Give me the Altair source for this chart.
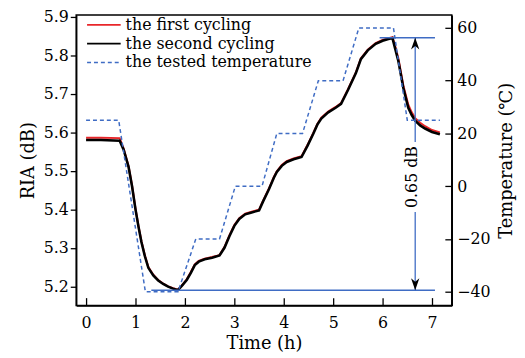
import altair as alt
import pandas as pd

FONT = "DejaVu Serif"
BLUE = "#3f6cc4"

# ---- data ----
time_h = [0.0, 0.3, 0.68, 0.76, 0.86, 0.93, 1.0, 1.06, 1.12, 1.19,
          1.26, 1.36, 1.46, 1.56, 1.66, 1.76, 1.86, 1.95, 2.04, 2.12,
          2.2, 2.28, 2.4, 2.55, 2.7, 2.8, 2.9, 3.0, 3.1, 3.22,
          3.35, 3.5, 3.58, 3.7, 3.8, 3.86, 3.96, 4.06, 4.2, 4.36,
          4.48, 4.6, 4.68, 4.76, 4.9, 5.05, 5.16, 5.3, 5.46, 5.56,
          5.7, 5.86, 6.0, 6.1, 6.2, 6.26, 6.32, 6.42, 6.52, 6.59,
          6.66, 6.76, 6.86, 7.0, 7.16]
ria_first = [5.586, 5.586, 5.585, 5.558, 5.512, 5.462, 5.402, 5.357, 5.317, 5.280,
             5.250, 5.230, 5.216, 5.207, 5.200, 5.195, 5.191, 5.204, 5.219, 5.237,
             5.257, 5.266, 5.272, 5.276, 5.281, 5.302, 5.332, 5.359, 5.377, 5.389,
             5.394, 5.399, 5.422, 5.454, 5.484, 5.499, 5.515, 5.525, 5.532, 5.538,
             5.567, 5.599, 5.622, 5.638, 5.654, 5.666, 5.676, 5.712, 5.756, 5.792,
             5.815, 5.832, 5.840, 5.844, 5.847, 5.822, 5.792, 5.722, 5.672, 5.652,
             5.637, 5.625, 5.616, 5.606, 5.600]
ria_second = [5.580, 5.580, 5.578, 5.555, 5.510, 5.460, 5.400, 5.355, 5.315, 5.278,
              5.248, 5.228, 5.215, 5.206, 5.199, 5.194, 5.190, 5.203, 5.217, 5.235,
              5.255, 5.264, 5.270, 5.274, 5.280, 5.300, 5.330, 5.357, 5.375, 5.387,
              5.392, 5.397, 5.420, 5.452, 5.482, 5.497, 5.513, 5.523, 5.530, 5.536,
              5.565, 5.597, 5.620, 5.636, 5.652, 5.664, 5.674, 5.710, 5.754, 5.790,
              5.813, 5.830, 5.838, 5.842, 5.845, 5.815, 5.785, 5.715, 5.664, 5.645,
              5.630, 5.618, 5.610, 5.601, 5.595]

temp_time_h = [0.0, 0.66, 1.2, 1.86, 2.22, 2.7, 3.02, 3.56, 3.86, 4.38,
               4.7, 5.2, 5.52, 6.22, 6.5, 7.16]
temp_c = [25, 25, -40, -40, -20, -20, 0, 0, 20, 20, 40, 40, 60, 60, 25, 25]

x_ticks = [0, 1, 2, 3, 4, 5, 6, 7]
ria_ticks = [5.2, 5.3, 5.4, 5.5, 5.6, 5.7, 5.8, 5.9]
temp_ticks = [-40, -20, 0, 20, 40, 60]

legend_labels = ["the first cycling", "the second cycling", "the tested temperature"]

# annotation (0.65 dB span)
ria_peak = 5.846
ria_min = 5.19
peak_line_t = [5.94, 7.06]
min_line_t = [1.32, 7.06]
arrow_t = 6.66
gap_ria = [5.575, 5.393]
delta_label = "0.65 dB"
delta_label_t = 6.59
delta_label_ria = 5.484

# ---- scales ----
xscale = alt.Scale(domain=[-0.2, 7.4], nice=False, zero=False)
ria_scale = alt.Scale(domain=[5.15, 5.905], nice=False, zero=False)
temp_scale = alt.Scale(domain=[-45.2, 64.9], nice=False, zero=False)

curves = pd.DataFrame({"t": time_h, "first": ria_first, "second": ria_second})
temps = pd.DataFrame({"t": temp_time_h, "temp": temp_c})

x_none = alt.X("t:Q", scale=xscale, axis=None)

red = alt.Chart(curves).mark_line(color="#e8262a", strokeWidth=2).encode(
    x=alt.X("t:Q", scale=xscale,
            axis=alt.Axis(values=x_ticks, format="d", title="Time (h)", tickSize=0,
                          labelPadding=9, titlePadding=4, orient="bottom")),
    y=alt.Y("first:Q", scale=ria_scale,
            axis=alt.Axis(values=ria_ticks, format=".1f", title="RIA (dB)", orient="left",
                          tickSize=6, labelPadding=2, titlePadding=6,
                          titleAngle=270, titleBaseline="bottom")),
)
black = alt.Chart(curves).mark_line(color="black", strokeWidth=2.6).encode(
    x=x_none, y=alt.Y("second:Q", scale=ria_scale, axis=None))

temp_line = alt.Chart(temps).mark_line(color=BLUE, strokeWidth=1.5, strokeDash=[4, 3]).encode(
    x=x_none,
    y=alt.Y("temp:Q", scale=temp_scale,
            axis=alt.Axis(values=temp_ticks, orient="right", title="Temperature (℃)",
                          tickSize=0, labelPadding=5, titlePadding=8,
                          titleAngle=270, titleBaseline="top")),
)
temp_ticks_in = alt.Chart(temps).mark_line(strokeOpacity=0).encode(
    x=x_none,
    y=alt.Y("temp:Q", scale=temp_scale,
            axis=alt.Axis(values=temp_ticks, orient="left", offset=-380, labels=False,
                          domain=False, tickSize=7, title=None)),
)
x_ticks_in = alt.Chart(curves).mark_line(strokeOpacity=0).encode(
    x=alt.X("t:Q", scale=xscale,
            axis=alt.Axis(values=x_ticks, orient="top", offset=-294, labels=False,
                          domain=False, tickSize=8, title=None)),
    y=alt.Y("second:Q", scale=ria_scale, axis=None),
)

# annotation
hlines = pd.DataFrame({"t1": [peak_line_t[0], min_line_t[0]],
                       "t2": [peak_line_t[1], min_line_t[1]],
                       "ria": [ria_peak, ria_min]})
hl = alt.Chart(hlines).mark_rule(color=BLUE, strokeWidth=1.5).encode(
    x=alt.X("t1:Q", scale=xscale, axis=None), x2="t2:Q",
    y=alt.Y("ria:Q", scale=ria_scale, axis=None))
vseg = pd.DataFrame({"t": [arrow_t, arrow_t], "y1": [ria_peak, gap_ria[1]],
                     "y2": [gap_ria[0], ria_min]})
vl = alt.Chart(vseg).mark_rule(color=BLUE, strokeWidth=1.3).encode(
    x=alt.X("t:Q", scale=xscale, axis=None),
    y=alt.Y("y1:Q", scale=ria_scale, axis=None), y2="y2:Q")
arrow_up = alt.Chart(pd.DataFrame({"t": [arrow_t], "ria": [ria_peak]})).mark_point(
    shape="M0,0 L0.7,2 L0,1.4 L-0.7,2 Z", size=144, filled=True, color="black", opacity=1
).encode(x=alt.X("t:Q", scale=xscale, axis=None), y=alt.Y("ria:Q", scale=ria_scale, axis=None))
arrow_dn = alt.Chart(pd.DataFrame({"t": [arrow_t], "ria": [ria_min]})).mark_point(
    shape="M0,0 L0.7,-2 L0,-1.4 L-0.7,-2 Z", size=144, filled=True, color="black", opacity=1
).encode(x=alt.X("t:Q", scale=xscale, axis=None), y=alt.Y("ria:Q", scale=ria_scale, axis=None))
dtext = alt.Chart(pd.DataFrame({"t": [delta_label_t], "ria": [delta_label_ria],
                                "label": [delta_label]})).mark_text(
    angle=270, font=FONT, fontSize=16, align="center", baseline="middle", color="black"
).encode(x=alt.X("t:Q", scale=xscale, axis=None), y=alt.Y("ria:Q", scale=ria_scale, axis=None),
         text="label:N")

# manual legend
leg_layers = []
leg_styles = [("#e8262a", None, 1.8), ("black", None, 1.8), (BLUE, [4, 3], 1.5)]
for i, (lab, (col, dash, w)) in enumerate(zip(legend_labels, leg_styles)):
    ypx = 10 + 19 * i
    df = pd.DataFrame({"label": [lab]})
    kw = dict(color=col, strokeWidth=w)
    if dash:
        kw["strokeDash"] = dash
    leg_layers.append(alt.Chart(df).mark_rule(**kw).encode(
        x=alt.value(11), x2=alt.value(45), y=alt.value(ypx)))
    leg_layers.append(alt.Chart(df).mark_text(
        font=FONT, fontSize=16, align="left", baseline="middle", color="black").encode(
        x=alt.value(50), y=alt.value(ypx), text="label:N"))

chart = alt.layer(
    red, black, temp_line, temp_ticks_in, x_ticks_in, hl, vl, arrow_up, arrow_dn, dtext,
    *leg_layers
).resolve_scale(y="independent").resolve_axis(x="independent").properties(
    width=380, height=294,
    autosize=alt.AutoSizeParams(type="none"),
    padding={"left": 69, "top": 5, "right": 66, "bottom": 49},
    background="white",
).configure_view(stroke="black", strokeWidth=1.5).configure_axis(
    labelFont=FONT, titleFont=FONT, labelFontSize=16, titleFontSize=18,
    titleFontWeight="normal", labelColor="black", titleColor="black",
    domainColor="black", tickColor="black", domainWidth=1.5, tickWidth=1.3, grid=False,
)

chart.save("out.html", embed_options={"renderer": "svg", "actions": False})
